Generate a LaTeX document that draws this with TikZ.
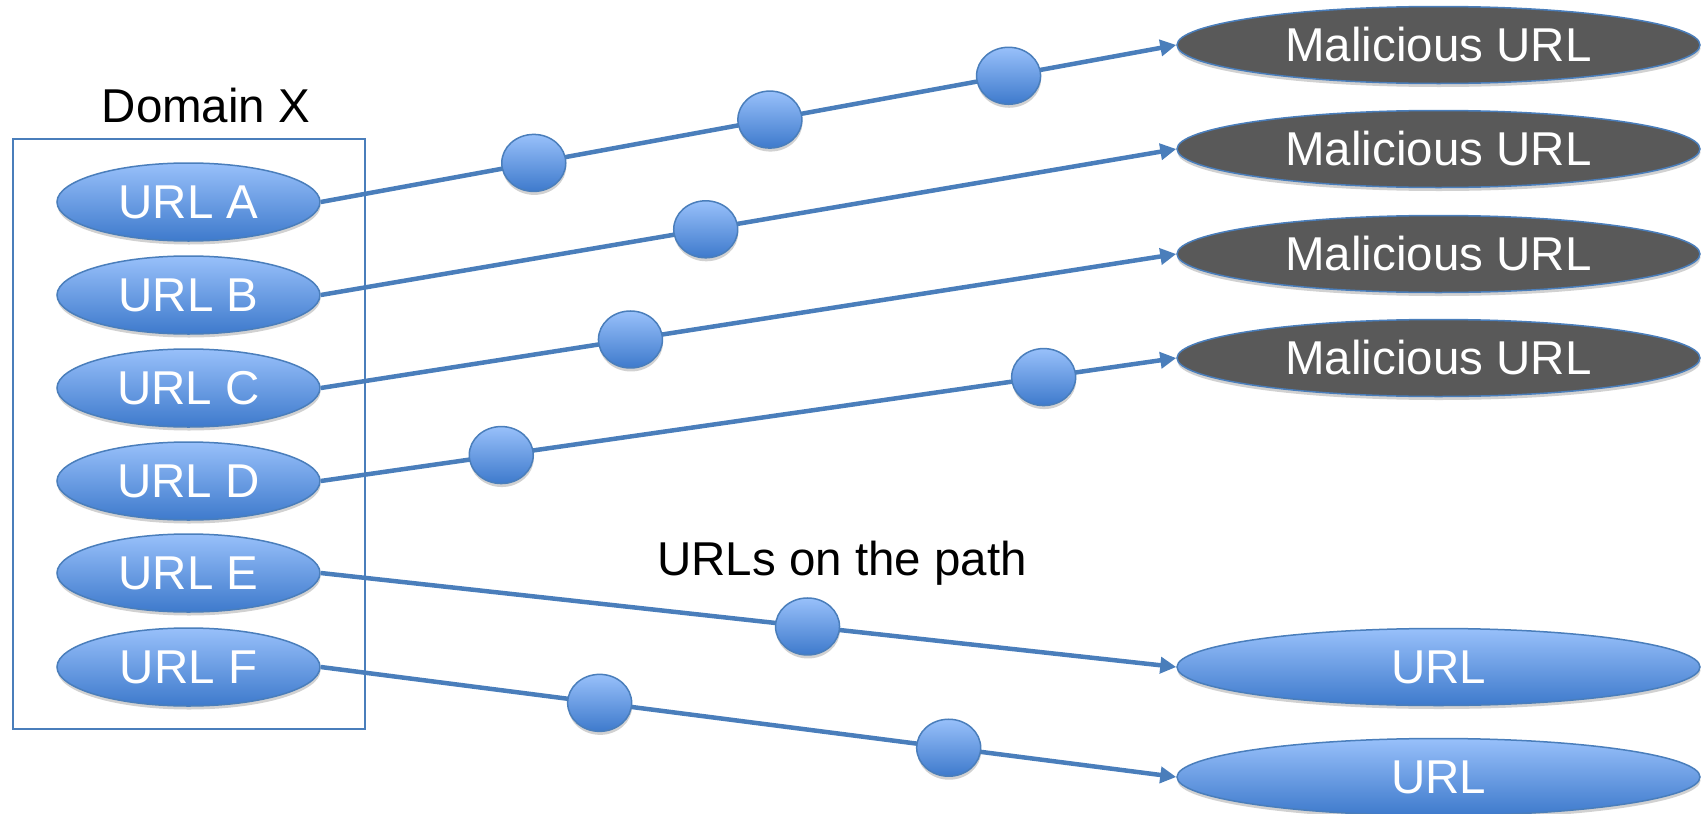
\documentclass[tikz,border=0pt]{standalone}
\usepackage{fontspec}
\setmainfont{Liberation Sans}
\usetikzlibrary{shapes.geometric,arrows.meta,shadows}
\definecolor{lineblue}{RGB}{74,126,187}
\definecolor{topblue}{RGB}{152,192,250}
\definecolor{botblue}{RGB}{62,122,204}
\definecolor{darkfill}{RGB}{89,89,89}
\begin{document}
\begin{tikzpicture}[x=1pt,y=-1pt,
  lbl/.style={font=\fontsize{47.5}{57}\selectfont},
  shad/.style={drop shadow={opacity=0.3,fill=black!60,shadow xshift=0.5pt,shadow yshift=-3.5pt}},
  bluefill/.style={top color=topblue,bottom color=botblue},
  ell/.style={ellipse, draw=lineblue, line width=1.5pt, text=white, lbl, inner sep=0pt, shad},
  src/.style={ell, bluefill, minimum width=263pt, minimum height=78pt},
  dst/.style={ell, minimum width=523pt, minimum height=77pt},
  bad/.style={dst, fill=darkfill},
  good/.style={dst, bluefill},
  bead/.style={ellipse, draw=lineblue, line width=1.5pt, bluefill, minimum width=64pt, minimum height=57pt, inner sep=0pt, shad},
  link/.style={draw=lineblue, line width=4.5pt, -{Triangle[length=16pt,width=16pt]}}]
\useasboundingbox (0,0) rectangle (1701,814);

\node[draw=lineblue, line width=1.5pt, minimum width=352pt, minimum height=590pt, anchor=north west, inner sep=0pt] (dom) at (12,138) {};
\node[lbl, anchor=base] (dlabel) at (206,122) {Domain X};
\node[lbl, anchor=base] (plabel) at (842,575) {URLs on the path};

\node[src] (a) at (188.5,202) {URL A};
\node[src] (b) at (188.5,295) {URL B};
\node[src] (c) at (188.5,388) {URL C};
\node[src] (d) at (188.5,481) {URL D};
\node[src] (e) at (188.5,573) {URL E};
\node[src] (f) at (188.5,667) {URL F};

\node[bad] (m1) at (1438.5,45) {Malicious URL};
\node[bad] (m2) at (1438.5,149) {Malicious URL};
\node[bad] (m3) at (1438.5,254) {Malicious URL};
\node[bad] (m4) at (1438.5,358) {Malicious URL};
\node[good] (u1) at (1438.5,667) {URL};
\node[good] (u2) at (1438.5,777) {URL};

\draw[link] (a.east) -- node[bead,pos=.249] (a1) {} node[bead,pos=.525] (a2) {} node[bead,pos=.804] (a3) {} (m1.west);
\draw[link] (b.east) -- node[bead,pos=.45] (b1) {} (m2.west);
\draw[link] (c.east) -- node[bead,pos=.362] (c1) {} (m3.west);
\draw[link] (d.east) -- node[bead,pos=.211] (d1) {} node[bead,pos=.845] (d2) {} (m4.west);
\draw[link] (e.east) -- node[bead,pos=.569] (e1) {} (u1.west);
\draw[link] (f.east) -- node[bead,pos=.326] (f1) {} node[bead,pos=.734] (f2) {} (u2.west);
\end{tikzpicture}
\end{document}
